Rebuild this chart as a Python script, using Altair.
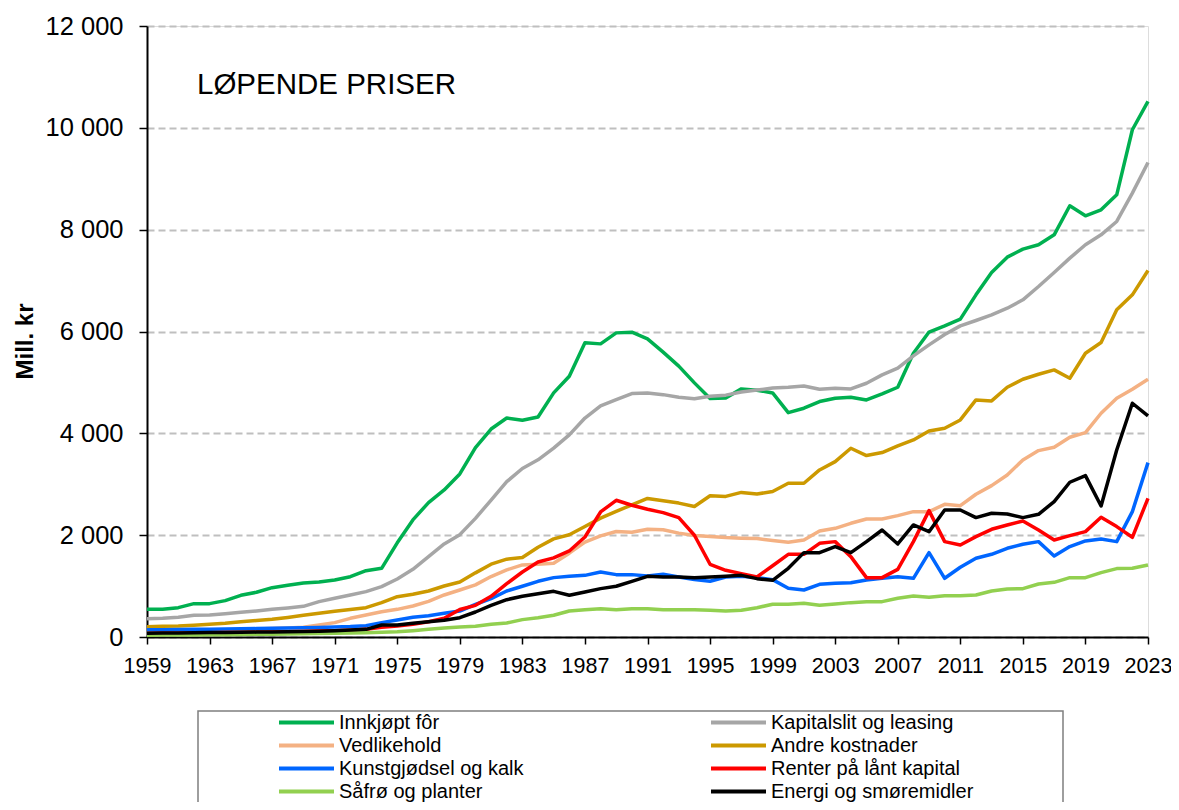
import altair as alt
import pandas as pd

years = list(range(1959, 2024))
tick_years = list(range(1959, 2024, 4))
y_ticks = [0, 2000, 4000, 6000, 8000, 10000, 12000]

series_names = [
    "Innkjøpt fôr", "Kapitalslit og leasing", "Vedlikehold", "Andre kostnader",
    "Kunstgjødsel og kalk", "Renter på lånt kapital", "Såfrø og planter", "Energi og smøremidler",
]
series_colors = ["#00B050", "#A6A6A6", "#F4B183", "#CC9900",
                 "#0066FF", "#FF0000", "#92D050", "#000000"]

# legend lists column by column: left column first, then right column
legend_order = [0, 2, 4, 6, 1, 3, 5, 7]

innkjopt_for = [544, 544, 576, 655, 655, 714, 819, 878, 969, 1015, 1061, 1081, 1120, 1185, 1303, 1349,
                1850, 2299, 2640, 2888, 3203, 3720, 4085, 4302, 4256, 4322, 4794, 5122, 5777, 5757,
                5973, 5987, 5856, 5594, 5319, 4991, 4683, 4696, 4873, 4847, 4794, 4407, 4493, 4624,
                4689, 4709, 4656, 4774, 4905, 5574, 5990, 6111, 6242, 6720, 7159, 7460, 7618, 7703,
                7899, 8469, 8272, 8390, 8685, 9962, 10519]
kapitalslit = [360, 367, 386, 426, 432, 458, 485, 511, 543, 570, 602, 694, 760, 825, 891, 989,
               1140, 1330, 1578, 1827, 2010, 2330, 2690, 3050, 3310, 3480, 3710, 3970, 4300, 4540,
               4660, 4780, 4790, 4760, 4710, 4680, 4730, 4750, 4810, 4850, 4890, 4905, 4931, 4866,
               4886, 4873, 4984, 5148, 5279, 5520, 5738, 5940, 6111, 6216, 6327, 6458, 6622, 6884,
               7159, 7441, 7703, 7899, 8161, 8718, 9320]
vedlikehold = [110, 115, 120, 125, 130, 138, 146, 155, 165, 175, 190, 236, 282, 367, 432, 497,
               543, 609, 701, 825, 923, 1023, 1187, 1318, 1416, 1430, 1449, 1646, 1862, 1987,
               2072, 2059, 2118, 2105, 2040, 1993, 1974, 1954, 1941, 1934, 1895, 1860, 1906, 2083,
               2135, 2233, 2318, 2318, 2384, 2462, 2462, 2606, 2580, 2803, 2973, 3183, 3478, 3661,
               3726, 3923, 4015, 4394, 4689, 4866, 5062]
andre_kostnader = [203, 210, 216, 230, 249, 270, 301, 325, 347, 385, 426, 465, 504, 540, 576, 675,
                   792, 838, 904, 1002, 1080, 1260, 1430, 1528, 1561, 1764, 1928, 2007, 2170, 2335,
                   2466, 2597, 2722, 2676, 2630, 2564, 2774, 2761, 2840, 2807, 2859, 3019, 3019, 3281,
                   3445, 3707, 3563, 3622, 3753, 3871, 4047, 4100, 4263, 4656, 4637, 4905, 5062, 5161,
                   5246, 5082, 5573, 5783, 6426, 6720, 7198]
kunstgjodsel = [140, 143, 146, 150, 153, 157, 160, 165, 170, 175, 180, 188, 195, 205, 223, 282,
                334, 386, 419, 465, 510, 642, 753, 904, 996, 1094, 1166, 1192, 1211, 1277,
                1225, 1225, 1199, 1231, 1179, 1127, 1094, 1179, 1192, 1166, 1127, 956, 923, 1035,
                1054, 1067, 1120, 1153, 1185, 1153, 1657, 1153, 1369, 1546, 1624, 1742, 1821, 1873,
                1591, 1775, 1886, 1925, 1873, 2462, 3425]
renter = [70, 72, 75, 78, 82, 86, 90, 95, 100, 105, 110, 118, 125, 135, 150, 190,
          216, 250, 300, 367, 540, 622, 799, 1048, 1277, 1474, 1553, 1690, 1965, 2456,
          2685, 2587, 2508, 2443, 2345, 1998, 1428, 1310, 1245, 1179, 1400, 1624, 1624, 1840,
          1873, 1578, 1166, 1166, 1329, 1873, 2482, 1873, 1808, 1971, 2115, 2200, 2279, 2102,
          1906, 1991, 2069, 2351, 2168, 1958, 2724]
safro = [35, 37, 39, 41, 43, 46, 49, 52, 55, 60, 65, 70, 75, 80, 85, 95,
         105, 125, 150, 175, 196, 210, 249, 275, 341, 380, 426, 511, 537, 557,
         537, 557, 557, 537, 537, 537, 524, 511, 524, 576, 642, 642, 661, 622,
         648, 675, 694, 694, 760, 805, 779, 812, 812, 825, 904, 943, 950, 1041,
         1074, 1166, 1166, 1264, 1343, 1349, 1415]
energi = [75, 77, 80, 83, 86, 89, 92, 96, 100, 105, 110, 115, 125, 138, 150, 236,
          236, 269, 301, 330, 380, 491, 622, 733, 799, 851, 897, 819, 884, 950,
          996, 1094, 1192, 1179, 1179, 1166, 1179, 1192, 1211, 1146, 1113, 1349, 1657, 1657,
          1775, 1657, 1873, 2102, 1827, 2200, 2069, 2495, 2495, 2345, 2430, 2417, 2345, 2410,
          2659, 3039, 3170, 2574, 3674, 4591, 4342]

all_series = [innkjopt_for, kapitalslit, vedlikehold, andre_kostnader,
              kunstgjodsel, renter, safro, energi]

rows = []
for name, vals in zip(series_names, all_series):
    for yr, v in zip(years, vals):
        rows.append({"År": yr, "Serie": name, "Verdi": v})
df = pd.DataFrame(rows)

legend_names = [series_names[i] for i in legend_order]
legend_colors = [series_colors[i] for i in legend_order]

FONT = "Liberation Sans"

lines = alt.Chart(df).mark_line(strokeWidth=3.5, strokeJoin="round").encode(
    x=alt.X("År:Q",
            scale=alt.Scale(domain=[1959, 2023], nice=False, zero=False),
            axis=alt.Axis(values=tick_years, format="d", title=None, grid=False,
                          labelFontSize=21.5, labelFont=FONT, labelColor="black",
                          tickSize=7, tickColor="black", tickWidth=1.5,
                          domainColor="black", domainWidth=2, labelPadding=11,
                          labelFlush=False)),
    y=alt.Y("Verdi:Q",
            scale=alt.Scale(domain=[0, 12000], nice=False),
            axis=alt.Axis(values=y_ticks,
                          labelExpr="replace(format(datum.value, ','), ',', ' ')",
                          title="Mill. kr", titleFontSize=24, titleFont=FONT,
                          titleFontWeight="bold", titleColor="black",
                          titleX=-122, titleY=315, titleAlign="center",
                          titleBaseline="middle", titleAngle=270,
                          grid=True, gridDash=[7, 4], gridColor="#BFBFBF", gridWidth=2,
                          labelFontSize=25.5, labelFont=FONT, labelColor="black",
                          tickSize=8, tickColor="black", tickWidth=1.5,
                          domainColor="black", domainWidth=2, labelPadding=16)),
    color=alt.Color("Serie:N",
                    scale=alt.Scale(domain=legend_names, range=legend_colors),
                    legend=alt.Legend(title=None, orient="none", legendX=130, legendY=685,
                                      columns=2, columnPadding=185, rowPadding=0,
                                      clipHeight=23, symbolType="stroke", symbolSize=3025,
                                      symbolStrokeWidth=4, labelFontSize=20, labelFont=FONT,
                                      labelColor="black", labelOffset=3, padding=0,
                                      labelLimit=400)),
)

label = alt.Chart(alt.Data(values=[{"t": "LØPENDE PRISER"}])).mark_text(
    align="left", baseline="middle", fontSize=29.5, font=FONT, color="black"
).encode(text="t:N", x=alt.value(50), y=alt.value(59))

frame = alt.Chart(alt.Data(values=[{"f": 1}])).mark_rect(
    fillOpacity=0, stroke="#7F7F7F", strokeWidth=1.5
).encode(x=alt.value(51), x2=alt.value(916), y=alt.value(685), y2=alt.value(805))

chart = alt.layer(lines, label, frame).properties(
    width=1001, height=611,
    padding={"left": 139, "top": 18, "right": 23, "bottom": 165},
    autosize=alt.AutoSizeParams(type="none"),
).configure_view(stroke="black", strokeWidth=2).configure(background="white")

chart.save("out.html", embed_options={"renderer": "svg", "actions": False})
